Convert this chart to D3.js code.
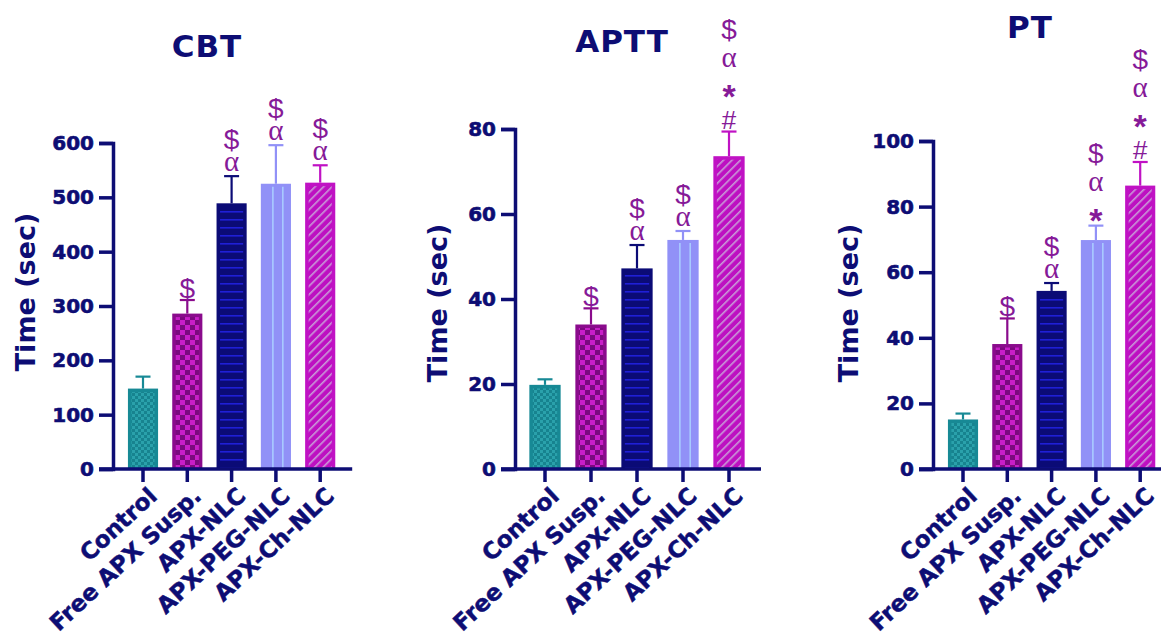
<html>
<head>
<script src="https://cdn.jsdelivr.net/npm/d3@7"></script>
<style>
body {margin: 0; background: white;}
text {font-family: "DejaVu Sans", sans-serif;}
</style>
</head>
<body>
<svg width="1161" height="639"></svg>
<script>
var groups = ["Control", "Free APX Susp.", "APX-NLC", "APX-PEG-NLC", "APX-Ch-NLC"];

var cbtMean = [148, 286, 489, 525, 527];
var cbtErr = [22, 25, 50, 71, 32];
var cbtTicks = [0, 100, 200, 300, 400, 500, 600];
var cbtMarks = [[], ["$"], ["α", "$"], ["α", "$"], ["α", "$"]];

var apttMean = [19.8, 34.0, 47.2, 53.9, 73.6];
var apttErr = [1.3, 3.8, 5.5, 2.1, 5.8];
var apttTicks = [0, 20, 40, 60, 80];
var apttMarks = [[], ["$"], ["α", "$"], ["α", "$"], ["#", "*", "α", "$"]];

var ptMean = [15.1, 38.1, 54.3, 69.8, 86.4];
var ptErr = [1.8, 7.8, 2.4, 4.4, 7.2];
var ptTicks = [0, 20, 40, 60, 80, 100];
var ptMarks = [[], ["$"], ["α", "$"], ["*", "α", "$"], ["#", "*", "α", "$"]];

var navy = "#0d0d74";
var markColor = "#861a98";
var edge = ["#178995", "#8a0b8c", "#0b0b76", "#9191f7", "#c012c4"];

// layout of the three panels
var panels = [
	{title: "CBT", mean: cbtMean, err: cbtErr, ticks: cbtTicks, marks: cbtMarks,
	 left: 113, top: 143, step: 44.3, titleX: 207, titleY: 57, labX: 35, labY: 292},
	{title: "APTT", mean: apttMean, err: apttErr, ticks: apttTicks, marks: apttMarks,
	 left: 515, top: 129, step: 46, titleX: 622, titleY: 52, labX: 447, labY: 303},
	{title: "PT", mean: ptMean, err: ptErr, ticks: ptTicks, marks: ptMarks,
	 left: 933, top: 141, step: 44.3, titleX: 1030, titleY: 38, labX: 858, labY: 303}
];
var bottom = 469;

var svg = d3.select("svg");
var defs = svg.append("defs");

// fill patterns
var p = defs.append("pattern").attr("id", "pat0").attr("patternUnits", "userSpaceOnUse").attr("width", 6).attr("height", 6);
p.append("rect").attr("width", 6).attr("height", 6).attr("fill", "#17838f");
p.append("rect").attr("width", 3).attr("height", 3).attr("fill", "#2aa1ab");
p.append("rect").attr("x", 3).attr("y", 3).attr("width", 3).attr("height", 3).attr("fill", "#2aa1ab");

p = defs.append("pattern").attr("id", "pat1").attr("patternUnits", "userSpaceOnUse").attr("width", 10).attr("height", 10);
p.append("rect").attr("width", 10).attr("height", 10).attr("fill", "#7a0a7e");
p.append("rect").attr("width", 5).attr("height", 5).attr("fill", "#c81ec8");
p.append("rect").attr("x", 5).attr("y", 5).attr("width", 5).attr("height", 5).attr("fill", "#c81ec8");

p = defs.append("pattern").attr("id", "pat2").attr("patternUnits", "userSpaceOnUse").attr("width", 10).attr("height", 8);
p.append("rect").attr("width", 10).attr("height", 8).attr("fill", "#0b0b76");
p.append("rect").attr("y", 3).attr("width", 10).attr("height", 1.6).attr("fill", "#1f1fd6");

p = defs.append("pattern").attr("id", "pat3").attr("patternUnits", "userSpaceOnUse").attr("width", 10).attr("height", 10);
p.append("rect").attr("width", 10).attr("height", 10).attr("fill", "#9191f7");

p = defs.append("pattern").attr("id", "pat4").attr("patternUnits", "userSpaceOnUse").attr("width", 6).attr("height", 6)
	.attr("patternTransform", "rotate(45)");
p.append("rect").attr("width", 6).attr("height", 6).attr("fill", "#bd10c1");
p.append("rect").attr("width", 1.6).attr("height", 6).attr("fill", "#c99ad8");

panels.forEach(function(pn) {
	var first = pn.left + 30;
	var x = d3.scaleBand().domain(groups)
		.range([first - pn.step / 2, first + 4.5 * pn.step])
		.paddingInner(0.32).paddingOuter(0.16);
	var y = d3.scaleLinear().domain([0, d3.max(pn.ticks)]).range([bottom, pn.top]);
	var bw = x.bandwidth();
	var g = svg.append("g");

	var rows = groups.map(function(d, i) { return {name: d, i: i, m: pn.mean[i], e: pn.err[i], marks: pn.marks[i]}; });

	// error bars (upper only)
	var eb = g.selectAll(".eb").data(rows).enter().append("g");
	eb.append("line")
		.attr("x1", function(d) { return x(d.name) + bw / 2; })
		.attr("x2", function(d) { return x(d.name) + bw / 2; })
		.attr("y1", function(d) { return y(d.m); })
		.attr("y2", function(d) { return y(d.m + d.e); })
		.attr("stroke", function(d) { return edge[d.i]; }).attr("stroke-width", 2.2);
	eb.append("line")
		.attr("x1", function(d) { return x(d.name) + bw / 2 - 7.5; })
		.attr("x2", function(d) { return x(d.name) + bw / 2 + 7.5; })
		.attr("y1", function(d) { return y(d.m + d.e); })
		.attr("y2", function(d) { return y(d.m + d.e); })
		.attr("stroke", function(d) { return edge[d.i]; }).attr("stroke-width", 2.2);

	// bars
	g.selectAll(".bar").data(rows).enter().append("rect")
		.attr("x", function(d) { return x(d.name); })
		.attr("y", function(d) { return y(d.m); })
		.attr("width", bw)
		.attr("height", function(d) { return bottom - y(d.m); })
		.attr("fill", function(d) { return edge[d.i]; });
	g.selectAll(".inner").data(rows).enter().append("rect")
		.attr("x", function(d) { return x(d.name) + 3.5; })
		.attr("y", function(d) { return y(d.m) + 3.5; })
		.attr("width", bw - 7)
		.attr("height", function(d) { return Math.max(0, bottom - y(d.m) - 5); })
		.attr("fill", function(d) { return "url(#pat" + d.i + ")"; });

	// light stripes on the PEG bar
	var peg = rows[3];
	[0.4, 0.73].forEach(function(f) {
		g.append("line")
			.attr("x1", x(peg.name) + bw * f).attr("x2", x(peg.name) + bw * f)
			.attr("y1", y(peg.m) + 3).attr("y2", bottom)
			.attr("stroke", "#a9cbff").attr("stroke-width", 1.6);
	});

	// significance marks
	rows.forEach(function(d) {
		var gap = d.marks.length > 2 ? 30 : 25;
		d.marks.forEach(function(s, k) {
			var t = g.append("text")
				.attr("x", x(d.name) + bw / 2)
				.attr("y", y(d.m + d.e) - 12 - k * gap)
				.attr("text-anchor", "middle")
				.attr("dominant-baseline", "central")
				.attr("fill", markColor)
				.text(s);
			if (s == "α") t.style("font-family", "Liberation Serif").style("font-size", "29px").attr("dy", -3);
			else if (s == "*") t.style("font-family", "Liberation Sans").style("font-weight", "bold").style("font-size", "34px").attr("dy", 6);
			else if (s == "#") t.style("font-family", "Liberation Sans").style("font-size", "26px");
			else t.style("font-family", "Liberation Sans").style("font-size", "28px");
		});
	});

	// y axis
	var ya = g.append("g").attr("transform", "translate(" + pn.left + ",0)")
		.call(d3.axisLeft(y).tickValues(pn.ticks).tickSize(14).tickPadding(5));
	ya.select(".domain").attr("stroke", navy).attr("stroke-width", 3.5);
	ya.selectAll(".tick line").attr("stroke", navy).attr("stroke-width", 3.5);
	ya.selectAll(".tick text").attr("fill", navy).style("font-size", "20px").style("font-weight", "bold")
		.style("font-family", "DejaVu Sans").attr("stroke", navy).attr("stroke-width", 0.6);

	// x axis
	var xEnd = first + 4 * pn.step + 32;
	g.append("line").attr("x1", pn.left - 14).attr("x2", xEnd).attr("y1", bottom).attr("y2", bottom)
		.attr("stroke", navy).attr("stroke-width", 3.5);
	var xa = g.append("g").attr("transform", "translate(0," + bottom + ")")
		.call(d3.axisBottom(x).tickSize(13).tickSizeOuter(0).tickPadding(6));
	xa.select(".domain").remove();
	xa.selectAll(".tick line").attr("stroke", navy).attr("stroke-width", 3.5);
	xa.selectAll(".tick text").attr("fill", navy).style("font-size", "23px").style("font-weight", "bold")
		.style("font-family", "DejaVu Sans").attr("stroke", navy).attr("stroke-width", 0.5)
		.attr("text-anchor", "end")
		.attr("dy", "0.35em")
		.attr("transform", "translate(-3,9) rotate(-43)");

	// title and y label
	g.append("text").attr("x", pn.titleX).attr("y", pn.titleY).attr("text-anchor", "middle")
		.attr("fill", navy).style("font-size", "31px").style("font-weight", "bold")
		.style("letter-spacing", "1px").text(pn.title);
	g.append("text").attr("transform", "translate(" + pn.labX + "," + pn.labY + ") rotate(-90)")
		.attr("text-anchor", "middle").attr("fill", navy)
		.style("font-size", "27px").style("font-weight", "bold").text("Time (sec)");
});
</script>
</body>
</html>
